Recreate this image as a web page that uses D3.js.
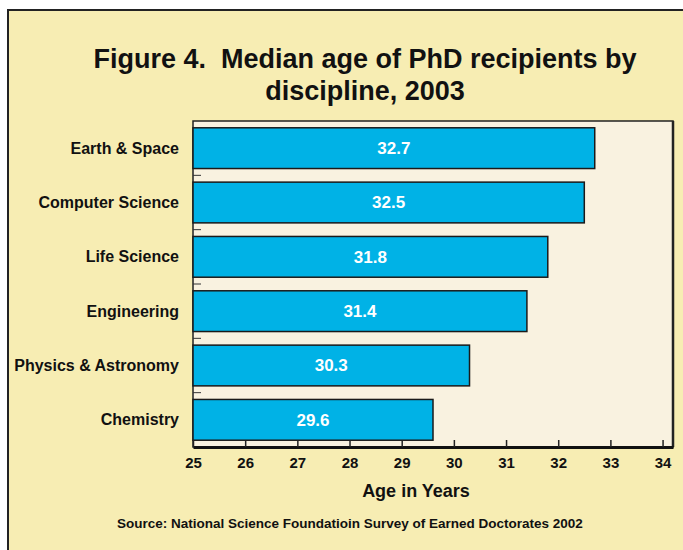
<!DOCTYPE html>
<html>
<head>
<meta charset="utf-8">
<script src="https://cdn.jsdelivr.net/npm/d3@7"></script>
<style>
  body { margin: 0; background: #ffffff; }
  svg { display: block; font-family: "Liberation Sans", Arial, sans-serif; }
</style>
</head>
<body>
<div id="chart"></div>
<script>
// chart data
var categories = ["Earth & Space", "Computer Science", "Life Science", "Engineering", "Physics & Astronomy", "Chemistry"];
var medianAges = [32.7, 32.5, 31.8, 31.4, 30.3, 29.6];
var tickValues = [25, 26, 27, 28, 29, 30, 31, 32, 33, 34];
var titleLines = ["Figure 4.  Median age of PhD recipients by", "discipline, 2003"];

var width = 683;
var height = 550;
var plot = { left: 193, top: 121, right: 673, bottom: 447 };

var svg = d3.select("#chart")
  .append("svg")
  .attr("width", width)
  .attr("height", height);

// outer panel
svg.append("rect")
  .attr("x", 8)
  .attr("y", 10)
  .attr("width", width + 10)
  .attr("height", height + 10)
  .attr("fill", "#f7edb3")
  .attr("stroke", "#222")
  .attr("stroke-width", 2);

// title
svg.append("g")
  .selectAll("text")
  .data(titleLines)
  .enter()
  .append("text")
  .attr("x", 365)
  .attr("y", function (d, i) { return 68 + i * 32; })
  .attr("text-anchor", "middle")
  .attr("font-size", 27)
  .attr("font-weight", "bold")
  .attr("fill", "#111")
  .attr("xml:space", "preserve")
  .text(function (d) { return d; });

var x = d3.scaleLinear()
  .domain([25, 34.2])
  .range([plot.left, plot.right]);

var y = d3.scaleBand()
  .domain(categories)
  .range([plot.top, plot.bottom])
  .paddingInner(0.25)
  .paddingOuter(0.125);

// plot background
svg.append("rect")
  .attr("x", plot.left)
  .attr("y", plot.top)
  .attr("width", plot.right - plot.left)
  .attr("height", plot.bottom - plot.top)
  .attr("fill", "#f9f2e0")
  .attr("stroke", "#222")
  .attr("stroke-width", 1.5);

// right shadow edge
svg.append("line")
  .attr("x1", plot.right)
  .attr("x2", plot.right)
  .attr("y1", plot.top)
  .attr("y2", plot.bottom)
  .attr("stroke", "#222")
  .attr("stroke-width", 2.5);

// small ticks between categories on the y axis
var bounds = categories.slice(1).map(function (c) {
  return y(c) - y.step() * y.paddingInner() / 2;
});
svg.append("g")
  .selectAll("line")
  .data(bounds)
  .enter()
  .append("line")
  .attr("x1", plot.left)
  .attr("x2", plot.left + 8)
  .attr("y1", function (d) { return d; })
  .attr("y2", function (d) { return d; })
  .attr("stroke", "#333")
  .attr("stroke-width", 1);

// bars
var rowData = categories.map(function (c, i) { return { name: c, value: medianAges[i] }; });

var bars = svg.append("g")
  .selectAll("g")
  .data(rowData)
  .enter()
  .append("g");

bars.append("rect")
  .attr("x", x(25))
  .attr("y", function (d) { return y(d.name); })
  .attr("width", function (d) { return x(d.value) - x(25); })
  .attr("height", y.bandwidth())
  .attr("fill", "#00b2e6")
  .attr("stroke", "#1a1a1a")
  .attr("stroke-width", 1.5);

bars.append("text")
  .attr("x", function (d) { return (x(25) + x(d.value)) / 2; })
  .attr("y", function (d) { return y(d.name) + y.bandwidth() / 2; })
  .attr("dy", "0.35em")
  .attr("text-anchor", "middle")
  .attr("font-size", 17)
  .attr("font-weight", "bold")
  .attr("fill", "#fff")
  .text(function (d) { return d.value.toFixed(1); });

// category labels
svg.append("g")
  .selectAll("text")
  .data(categories)
  .enter()
  .append("text")
  .attr("x", 179)
  .attr("y", function (d) { return y(d) + y.bandwidth() / 2; })
  .attr("dy", "0.35em")
  .attr("text-anchor", "end")
  .attr("font-size", 16)
  .attr("font-weight", "bold")
  .attr("fill", "#111")
  .text(function (d) { return d; });

// x axis
var xAxis = d3.axisBottom(x)
  .tickValues(tickValues)
  .tickSizeInner(-7)
  .tickSizeOuter(0)
  .tickPadding(10)
  .tickFormat(d3.format("d"));

var axisG = svg.append("g")
  .attr("transform", "translate(0," + plot.bottom + ")")
  .call(xAxis);

axisG.select(".domain")
  .attr("stroke", "#111")
  .attr("stroke-width", 3);
axisG.selectAll(".tick line")
  .attr("stroke", "#222")
  .attr("stroke-width", 1.5);
axisG.selectAll(".tick text")
  .attr("font-size", 15)
  .attr("font-weight", "bold")
  .attr("fill", "#111")
  .attr("font-family", "Liberation Sans, Arial, sans-serif");

// axis title
svg.append("text")
  .attr("x", 416)
  .attr("y", 497)
  .attr("text-anchor", "middle")
  .attr("font-size", 18)
  .attr("font-weight", "bold")
  .attr("fill", "#111")
  .text("Age in Years");

// source
svg.append("text")
  .attr("x", 117)
  .attr("y", 528)
  .attr("font-size", 13.5)
  .attr("font-weight", "bold")
  .attr("fill", "#111")
  .text("Source: National Science Foundatioin Survey of Earned Doctorates 2002");
</script>
</body>
</html>
